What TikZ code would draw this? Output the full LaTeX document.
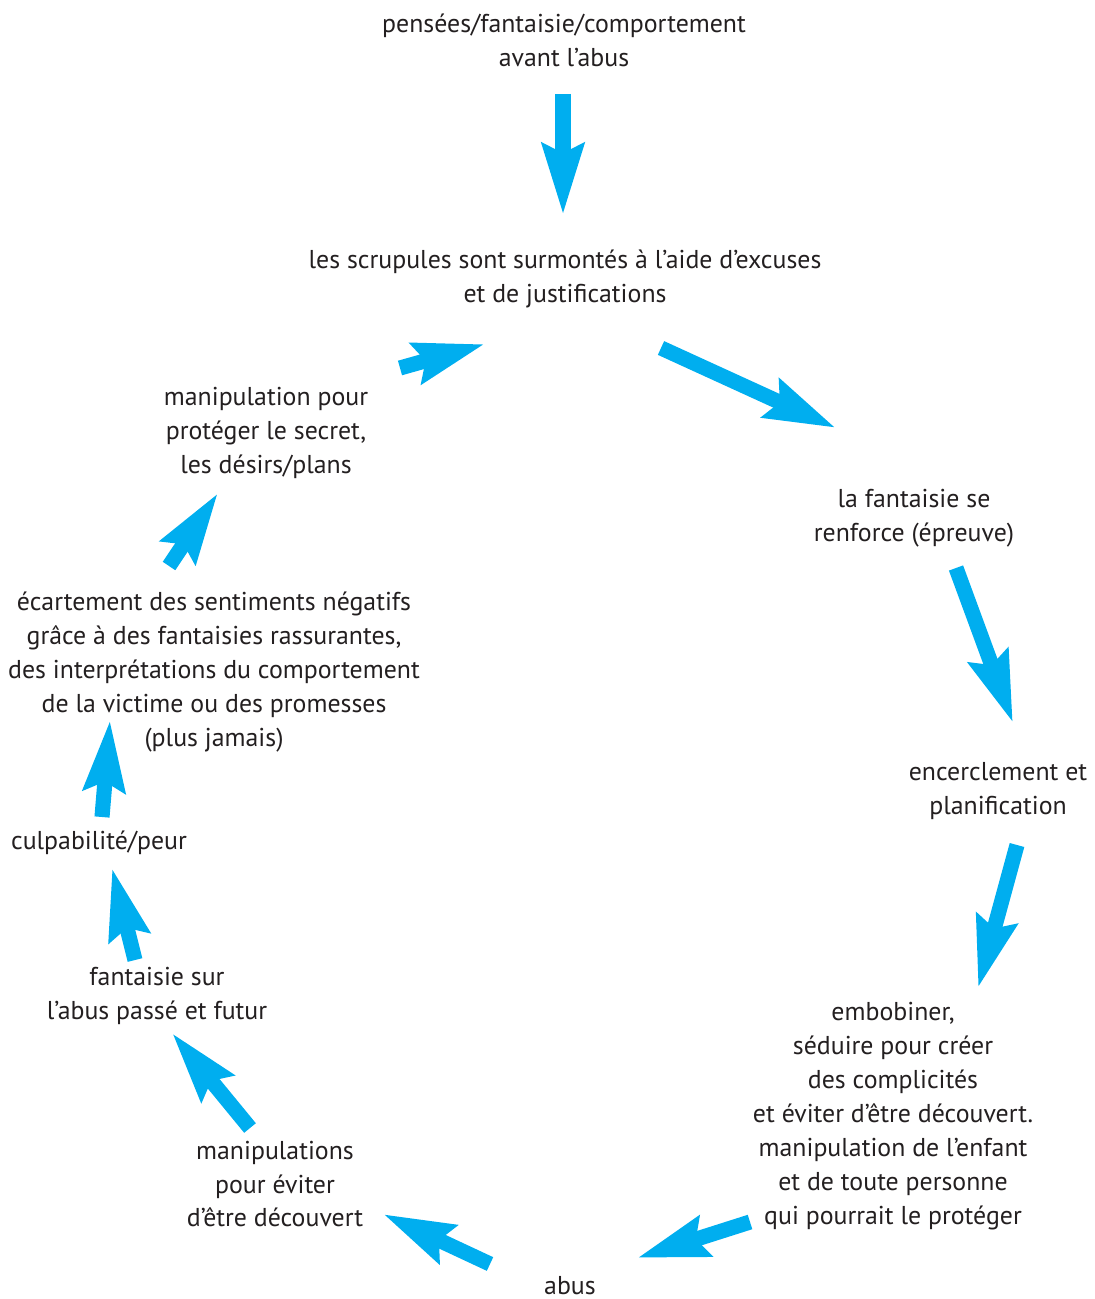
\documentclass[tikz,border=0pt]{standalone}
\usepackage{fontspec}
\setmainfont{PT Sans}
\usetikzlibrary{arrows.meta}
\definecolor{cycleblue}{HTML}{00AEEF}
\definecolor{textgray}{HTML}{231F20}
\tikzset{
  stage/.style={align=center,text=textgray,font=\fontsize{7.35}{9.67}\selectfont,inner sep=0pt},
  bigarrow/.style={draw=cycleblue,line width=4.3pt,
    -{Stealth[length=20pt,width=11.5pt,inset=2.5pt]}}
}
\begin{document}
\begin{tikzpicture}[x=0.1mm,y=-0.1mm]
\useasboundingbox (0,0) rectangle (1094,1299);
% stages of the cycle
\node[stage] (before) at (564,40) {pensées/fantaisie/comportement\\avant l’abus};
\node[stage] (scruples) at (565,279) {les scrupules sont surmontés à l’aide d’excuses\\et de justifications};
\node[stage] (reinforce) at (914,518) {la fantaisie se\\renforce (épreuve)};
\node[stage] (planning) at (998,791) {encerclement et\\planification};
\node[stage] (grooming) at (893,1116) {embobiner,\\séduire pour créer\\des complicités\\et éviter d’être découvert.\\manipulation de l’enfant\\et de toute personne\\qui pourrait le protéger};
\node[stage] (abuse) at (570,1286) {abus};
\node[stage] (hiding) at (275,1184) {manipulations\\pour éviter\\d’être découvert};
\node[stage] (fantasy) at (157,996) {fantaisie sur\\l’abus passé et futur};
\node[stage] (guilt) at (99,843) {culpabilité/peur};
\node[stage] (pushaway) at (214,672) {écartement des sentiments négatifs\\grâce à des fantaisies rassurantes,\\des interprétations du comportement\\de la victime ou des promesses\\(plus jamais)};
\node[stage] (secret) at (266,433) {manipulation pour\\protéger le secret,\\les désirs/plans};
% arrow ends
\coordinate (a1s) at (563,94);   \coordinate (a1e) at (563,215);
\coordinate (a2s) at (661,348);  \coordinate (a2e) at (836,428);
\coordinate (a3s) at (956,568);  \coordinate (a3e) at (1013,723);
\coordinate (a4s) at (1017,845); \coordinate (a4e) at (978,988);
\coordinate (a5s) at (750,1222); \coordinate (a5e) at (637,1258);
\coordinate (a6s) at (490,1264); \coordinate (a6e) at (383,1214);
\coordinate (a7s) at (250,1128); \coordinate (a7e) at (172,1033);
\coordinate (a8s) at (135,960);  \coordinate (a8e) at (112,868);
\coordinate (a9s) at (102,817);  \coordinate (a9e) at (110,720);
\coordinate (a10s) at (169,566); \coordinate (a10e) at (218,493);
\coordinate (a11s) at (400,368); \coordinate (a11e) at (485,344);
\foreach \i in {1,...,11}
  \draw[bigarrow] (a\i s) -- (a\i e);
\end{tikzpicture}
\end{document}
